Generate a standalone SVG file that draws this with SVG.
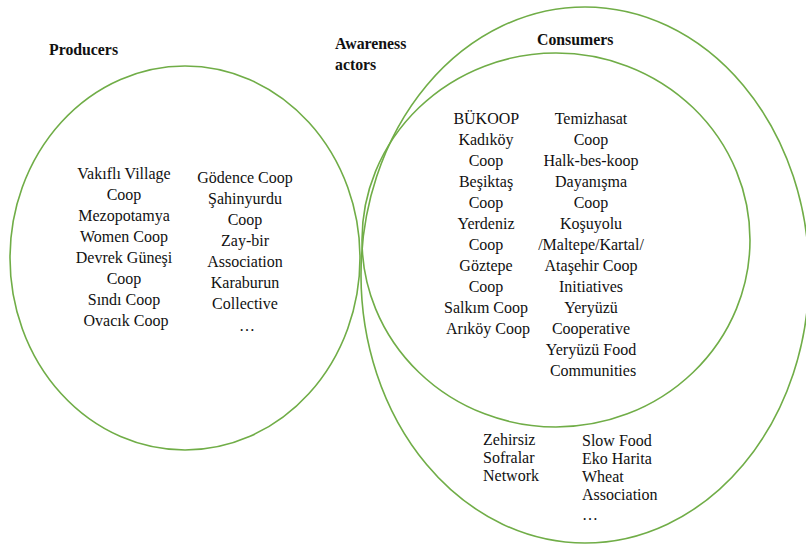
<svg xmlns="http://www.w3.org/2000/svg" width="806" height="545" viewBox="0 0 806 545">
  <style>
    .ring { fill: none; stroke: #70ad47; stroke-width: 1.6; }
    .head { font-family: "Liberation Serif", "Times New Roman", serif; font-size: 15.8px; font-weight: bold; fill: #111; }
    .item { font-family: "Liberation Serif", "Times New Roman", serif; font-size: 16px; fill: #111; text-anchor: middle; }
    .small { font-family: "Liberation Serif", "Times New Roman", serif; font-size: 16px; fill: #111; }
  </style>
  <defs>
    <clipPath id="consumerClip">
      <rect x="400" y="90" width="330" height="287"/>
    </clipPath>
  </defs>
  <rect width="806" height="545" fill="#fff"/>

  <g id="producers">
    <ellipse class="ring" cx="185" cy="258" rx="175" ry="192"/>
    <text class="head" x="49" y="55">Producers</text>
    <text class="item">
      <tspan x="126" y="179">Vakıflı Village</tspan>
      <tspan x="126" y="200">Coop</tspan>
      <tspan x="126" y="221">Mezopotamya</tspan>
      <tspan x="126" y="242">Women Coop</tspan>
      <tspan x="126" y="263">Devrek Güneşi</tspan>
      <tspan x="126" y="284">Coop</tspan>
      <tspan x="126" y="305">Sındı Coop</tspan>
      <tspan x="126" y="326">Ovacık Coop</tspan>
    </text>
    <text class="item">
      <tspan x="247" y="183">Gödence Coop</tspan>
      <tspan x="247" y="204">Şahinyurdu</tspan>
      <tspan x="247" y="225">Coop</tspan>
      <tspan x="247" y="246">Zay-bir</tspan>
      <tspan x="247" y="267">Association</tspan>
      <tspan x="247" y="288">Karaburun</tspan>
      <tspan x="247" y="309">Collective</tspan>
      <tspan x="247" y="331">…</tspan>
    </text>
  </g>

  <g id="awareness">
    <ellipse class="ring" cx="585" cy="275" rx="224" ry="268"/>
    <text class="head" x="335" y="49">Awareness</text>
    <text class="head" x="335" y="70">actors</text>
    <text class="small">
      <tspan x="483" y="445">Zehirsiz</tspan>
      <tspan x="483" y="463">Sofralar</tspan>
      <tspan x="483" y="481">Network</tspan>
    </text>
    <text class="small">
      <tspan x="582" y="446">Slow Food</tspan>
      <tspan x="582" y="464">Eko Harita</tspan>
      <tspan x="582" y="482">Wheat</tspan>
      <tspan x="582" y="500">Association</tspan>
      <tspan x="582" y="520">…</tspan>
    </text>
  </g>

  <g id="consumers">
    <ellipse class="ring" cx="556" cy="240" rx="194" ry="187"/>
    <text class="head" x="537" y="45">Consumers</text>
    <g clip-path="url(#consumerClip)">
      <text class="item">
        <tspan x="488" y="124">BÜKOOP</tspan>
        <tspan x="488" y="145">Kadıköy</tspan>
        <tspan x="488" y="166">Coop</tspan>
        <tspan x="488" y="187">Beşiktaş</tspan>
        <tspan x="488" y="208">Coop</tspan>
        <tspan x="488" y="229">Yerdeniz</tspan>
        <tspan x="488" y="250">Coop</tspan>
        <tspan x="488" y="271">Göztepe</tspan>
        <tspan x="488" y="292">Coop</tspan>
        <tspan x="488" y="313">Salkım Coop</tspan>
        <tspan x="488" y="334">Arıköy Coop</tspan>
      </text>
      <text class="item">
        <tspan x="593" y="124">Temizhasat</tspan>
        <tspan x="593" y="145">Coop</tspan>
        <tspan x="593" y="166">Halk-bes-koop</tspan>
        <tspan x="593" y="187">Dayanışma</tspan>
        <tspan x="593" y="208">Coop</tspan>
        <tspan x="593" y="229">Koşuyolu</tspan>
        <tspan x="593" y="250">/Maltepe/Kartal/</tspan>
        <tspan x="593" y="271">Ataşehir Coop</tspan>
        <tspan x="593" y="292">Initiatives</tspan>
        <tspan x="593" y="313">Yeryüzü</tspan>
        <tspan x="593" y="334">Cooperative</tspan>
        <tspan x="593" y="355">Yeryüzü Food</tspan>
        <tspan x="593" y="376">Communities</tspan>
      </text>
    </g>
  </g>

  <g id="connectors"/>
</svg>
